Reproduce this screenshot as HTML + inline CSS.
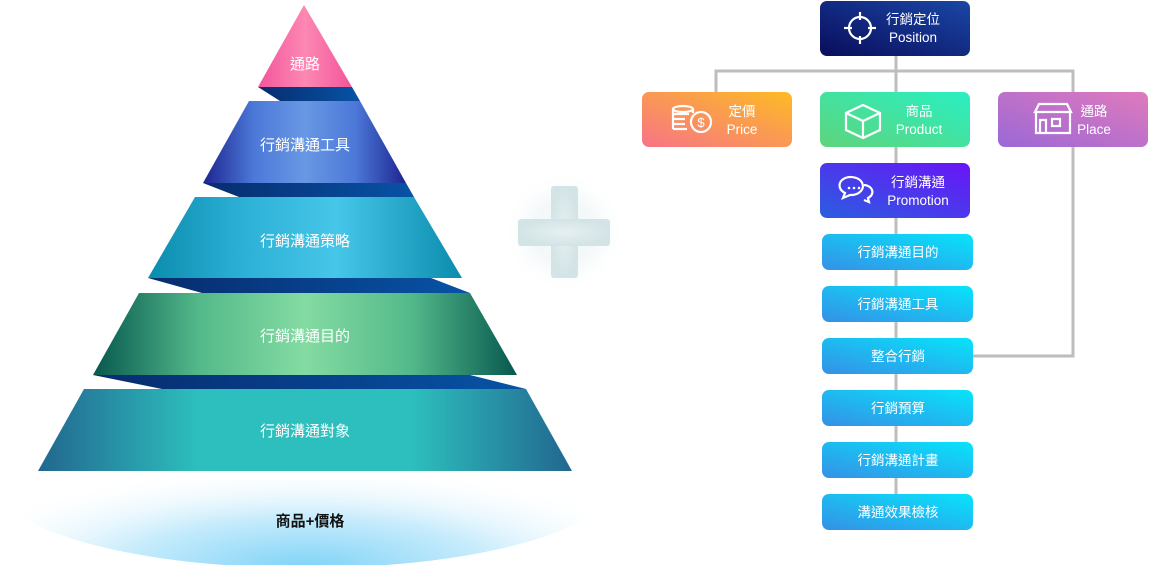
<!DOCTYPE html>
<html><head><meta charset="utf-8"><style>
html,body{margin:0;padding:0;background:#fff;width:1149px;height:565px;overflow:hidden}
svg{display:block}
text{font-family:"Liberation Sans","Noto Sans CJK TC",sans-serif}
</style></head><body>
<svg width="1149" height="565" viewBox="0 0 1149 565" xmlns="http://www.w3.org/2000/svg">
<defs>
<radialGradient id="glow" cx="0.5" cy="1" r="0.6" fx="0.5" fy="1">
<stop offset="0" stop-color="#7fd3f7"/><stop offset="0.5" stop-color="#c8ecfc"/><stop offset="1" stop-color="#fff" stop-opacity="0"/></radialGradient>
<linearGradient id="pink" x1="0" x2="1"><stop offset="0" stop-color="#f2559a"/><stop offset="0.5" stop-color="#fd88b3"/><stop offset="1" stop-color="#f2559a"/></linearGradient>
<linearGradient id="blue" x1="0" x2="1"><stop offset="0" stop-color="#1c2590"/><stop offset="0.25" stop-color="#4c78d8"/><stop offset="0.5" stop-color="#6898e4"/><stop offset="0.75" stop-color="#4c78d8"/><stop offset="1" stop-color="#1c2590"/></linearGradient>
<linearGradient id="cyan" x1="0" x2="1"><stop offset="0" stop-color="#0b8cad"/><stop offset="0.3" stop-color="#2cb0d6"/><stop offset="0.6" stop-color="#46c6e8"/><stop offset="1" stop-color="#0b8cad"/></linearGradient>
<linearGradient id="green" x1="0" x2="1"><stop offset="0" stop-color="#07584e"/><stop offset="0.25" stop-color="#53b98a"/><stop offset="0.5" stop-color="#84dba2"/><stop offset="0.75" stop-color="#53b98a"/><stop offset="1" stop-color="#07584e"/></linearGradient>
<linearGradient id="teal" x1="0" x2="1"><stop offset="0" stop-color="#22668f"/><stop offset="0.3" stop-color="#2dbfbd"/><stop offset="0.7" stop-color="#2dbfbd"/><stop offset="1" stop-color="#22668f"/></linearGradient>
<linearGradient id="band" x1="0" x2="1"><stop offset="0" stop-color="#072c6e"/><stop offset="1" stop-color="#0753a5"/></linearGradient>
<linearGradient id="gPos" x1="0" y1="1" x2="1" y2="0"><stop offset="0" stop-color="#0a0d5c"/><stop offset="1" stop-color="#1a47a6"/></linearGradient>
<linearGradient id="gPrice" x1="0" y1="1" x2="1" y2="0"><stop offset="0" stop-color="#f77487"/><stop offset="1" stop-color="#fdbb24"/></linearGradient>
<linearGradient id="gProd" x1="0" y1="1" x2="1" y2="0"><stop offset="0" stop-color="#5fd47c"/><stop offset="1" stop-color="#29efc2"/></linearGradient>
<linearGradient id="gPlace" x1="0" y1="1" x2="1" y2="0"><stop offset="0" stop-color="#9a68d6"/><stop offset="1" stop-color="#e07abd"/></linearGradient>
<linearGradient id="gPromo" x1="0" y1="1" x2="1" y2="0"><stop offset="0" stop-color="#2b5ee0"/><stop offset="1" stop-color="#6a14f7"/></linearGradient>
<linearGradient id="gSm" x1="0" y1="1" x2="1" y2="0"><stop offset="0" stop-color="#3591e6"/><stop offset="1" stop-color="#07e4fb"/></linearGradient>
<radialGradient id="plusG" cx="0.5" cy="0.5" r="0.5"><stop offset="0" stop-color="#e6f0f1"/><stop offset="1" stop-color="#d3e4e6"/></radialGradient>
<radialGradient id="halo" cx="0.5" cy="0.5" r="0.5"><stop offset="0.5" stop-color="#f3f8f9"/><stop offset="1" stop-color="#fff" stop-opacity="0"/></radialGradient>
</defs>
<ellipse cx="305" cy="482" rx="310" ry="86" fill="url(#glow)"/>
<rect x="0" y="380" width="620" height="100" fill="#fff"/>
<text x="310" y="526" font-size="15" font-weight="bold" fill="#111" text-anchor="middle">商品+價格</text>
<!-- bands -->
<polygon points="258,87 352,87 360,101 280,101" fill="url(#band)"/>
<polygon points="203,183 406,183 414,197 239,197" fill="url(#band)"/>
<polygon points="148,278 431,278 470,293 202,293" fill="url(#band)"/>
<polygon points="93,375 470,375 526,389 162,389" fill="url(#band)"/>
<!-- layers -->
<polygon points="304,5 352,87 258,87" fill="url(#pink)"/>
<polygon points="249,101 360,101 406,183 203,183" fill="url(#blue)"/>
<polygon points="195,197 414,197 462,278 148,278" fill="url(#cyan)"/>
<polygon points="139,293 470,293 517,375 93,375" fill="url(#green)"/>
<polygon points="84,389 526,389 572,471 38,471" fill="url(#teal)"/>
<g fill="#fff" font-size="15" text-anchor="middle">
<text x="305" y="69">通路</text>
<text x="305" y="150">行銷溝通工具</text>
<text x="305" y="246">行銷溝通策略</text>
<text x="305" y="341">行銷溝通目的</text>
<text x="305" y="436">行銷溝通對象</text>
</g>
<!-- plus -->
<circle cx="564" cy="232" r="62" fill="url(#halo)"/>
<rect x="551" y="186" width="27" height="92" rx="3" fill="url(#plusG)"/>
<rect x="518" y="219" width="92" height="27" rx="3" fill="url(#plusG)"/>
<!-- connectors -->
<g stroke="#bdbdbd" stroke-width="3" fill="none">
<polyline points="716,92 716,71 1073,71 1073,92"/>
<line x1="896" y1="56" x2="896" y2="510"/>
<polyline points="1073,147 1073,356 972,356"/>
</g>
<!-- boxes -->
<rect x="820" y="1" width="150" height="55" rx="7" fill="url(#gPos)"/>
<rect x="642" y="92" width="150" height="55" rx="7" fill="url(#gPrice)"/>
<rect x="820" y="92" width="150" height="55" rx="7" fill="url(#gProd)"/>
<rect x="998" y="92" width="150" height="55" rx="7" fill="url(#gPlace)"/>
<rect x="820" y="163" width="150" height="55" rx="7" fill="url(#gPromo)"/>
<g fill="#fff" font-size="13.5" text-anchor="middle">
<text x="913" y="24">行銷定位</text><text x="913" y="42">Position</text>
<text x="742" y="116">定價</text><text x="742" y="134">Price</text>
<text x="919" y="116">商品</text><text x="919" y="134">Product</text>
<text x="1094" y="116">通路</text><text x="1094" y="134">Place</text>
<text x="918" y="187">行銷溝通</text><text x="918" y="205">Promotion</text>
</g>
<!-- icons -->
<g stroke="#fff" stroke-width="2.2" fill="none">
<circle cx="860" cy="28" r="11"/><line x1="860" y1="12" x2="860" y2="20"/><line x1="860" y1="36" x2="860" y2="44"/><line x1="844" y1="28" x2="852" y2="28"/><line x1="868" y1="28" x2="876" y2="28"/>
<ellipse cx="683" cy="109" rx="10" ry="3"/><path d="M673 109v20M693 109v4M673 114h16M673 119h12M673 124h12M673 129h14"/>
<circle cx="701" cy="122" r="10"/>
<path d="M846 113l17-8 17 8v17l-17 8-17-8zM846 113l17 8 17-8M863 121v17"/>
<path d="M1035 112l4-8h28l4 8zM1036 112v21h34v-21M1040 133v-13h6v13M1052 119h8v7h-8z"/>
<path d="M842 180a12 9 0 1 1 8 15l-7 3 2-5a12 9 0 0 1-3-13z"/>
<path d="M864 185a9 7 0 0 1 4 13l1 4-5-2"/>
</g>
<text x="701" y="127" fill="#fff" font-size="13" text-anchor="middle">$</text>
<g fill="#fff"><circle cx="849" cy="188" r="1.3"/><circle cx="854" cy="188" r="1.3"/><circle cx="859" cy="188" r="1.3"/></g>
<g>
<rect x="822" y="234" width="151" height="36" rx="7" fill="url(#gSm)"/>
<rect x="822" y="286" width="151" height="36" rx="7" fill="url(#gSm)"/>
<rect x="822" y="338" width="151" height="36" rx="7" fill="url(#gSm)"/>
<rect x="822" y="390" width="151" height="36" rx="7" fill="url(#gSm)"/>
<rect x="822" y="442" width="151" height="36" rx="7" fill="url(#gSm)"/>
<rect x="822" y="494" width="151" height="36" rx="7" fill="url(#gSm)"/>
</g>
<g fill="#fff" font-size="13.5" text-anchor="middle">
<text x="898" y="257">行銷溝通目的</text>
<text x="898" y="309">行銷溝通工具</text>
<text x="898" y="361">整合行銷</text>
<text x="898" y="413">行銷預算</text>
<text x="898" y="465">行銷溝通計畫</text>
<text x="898" y="517">溝通效果檢核</text>
</g>
</svg>
</body></html>
